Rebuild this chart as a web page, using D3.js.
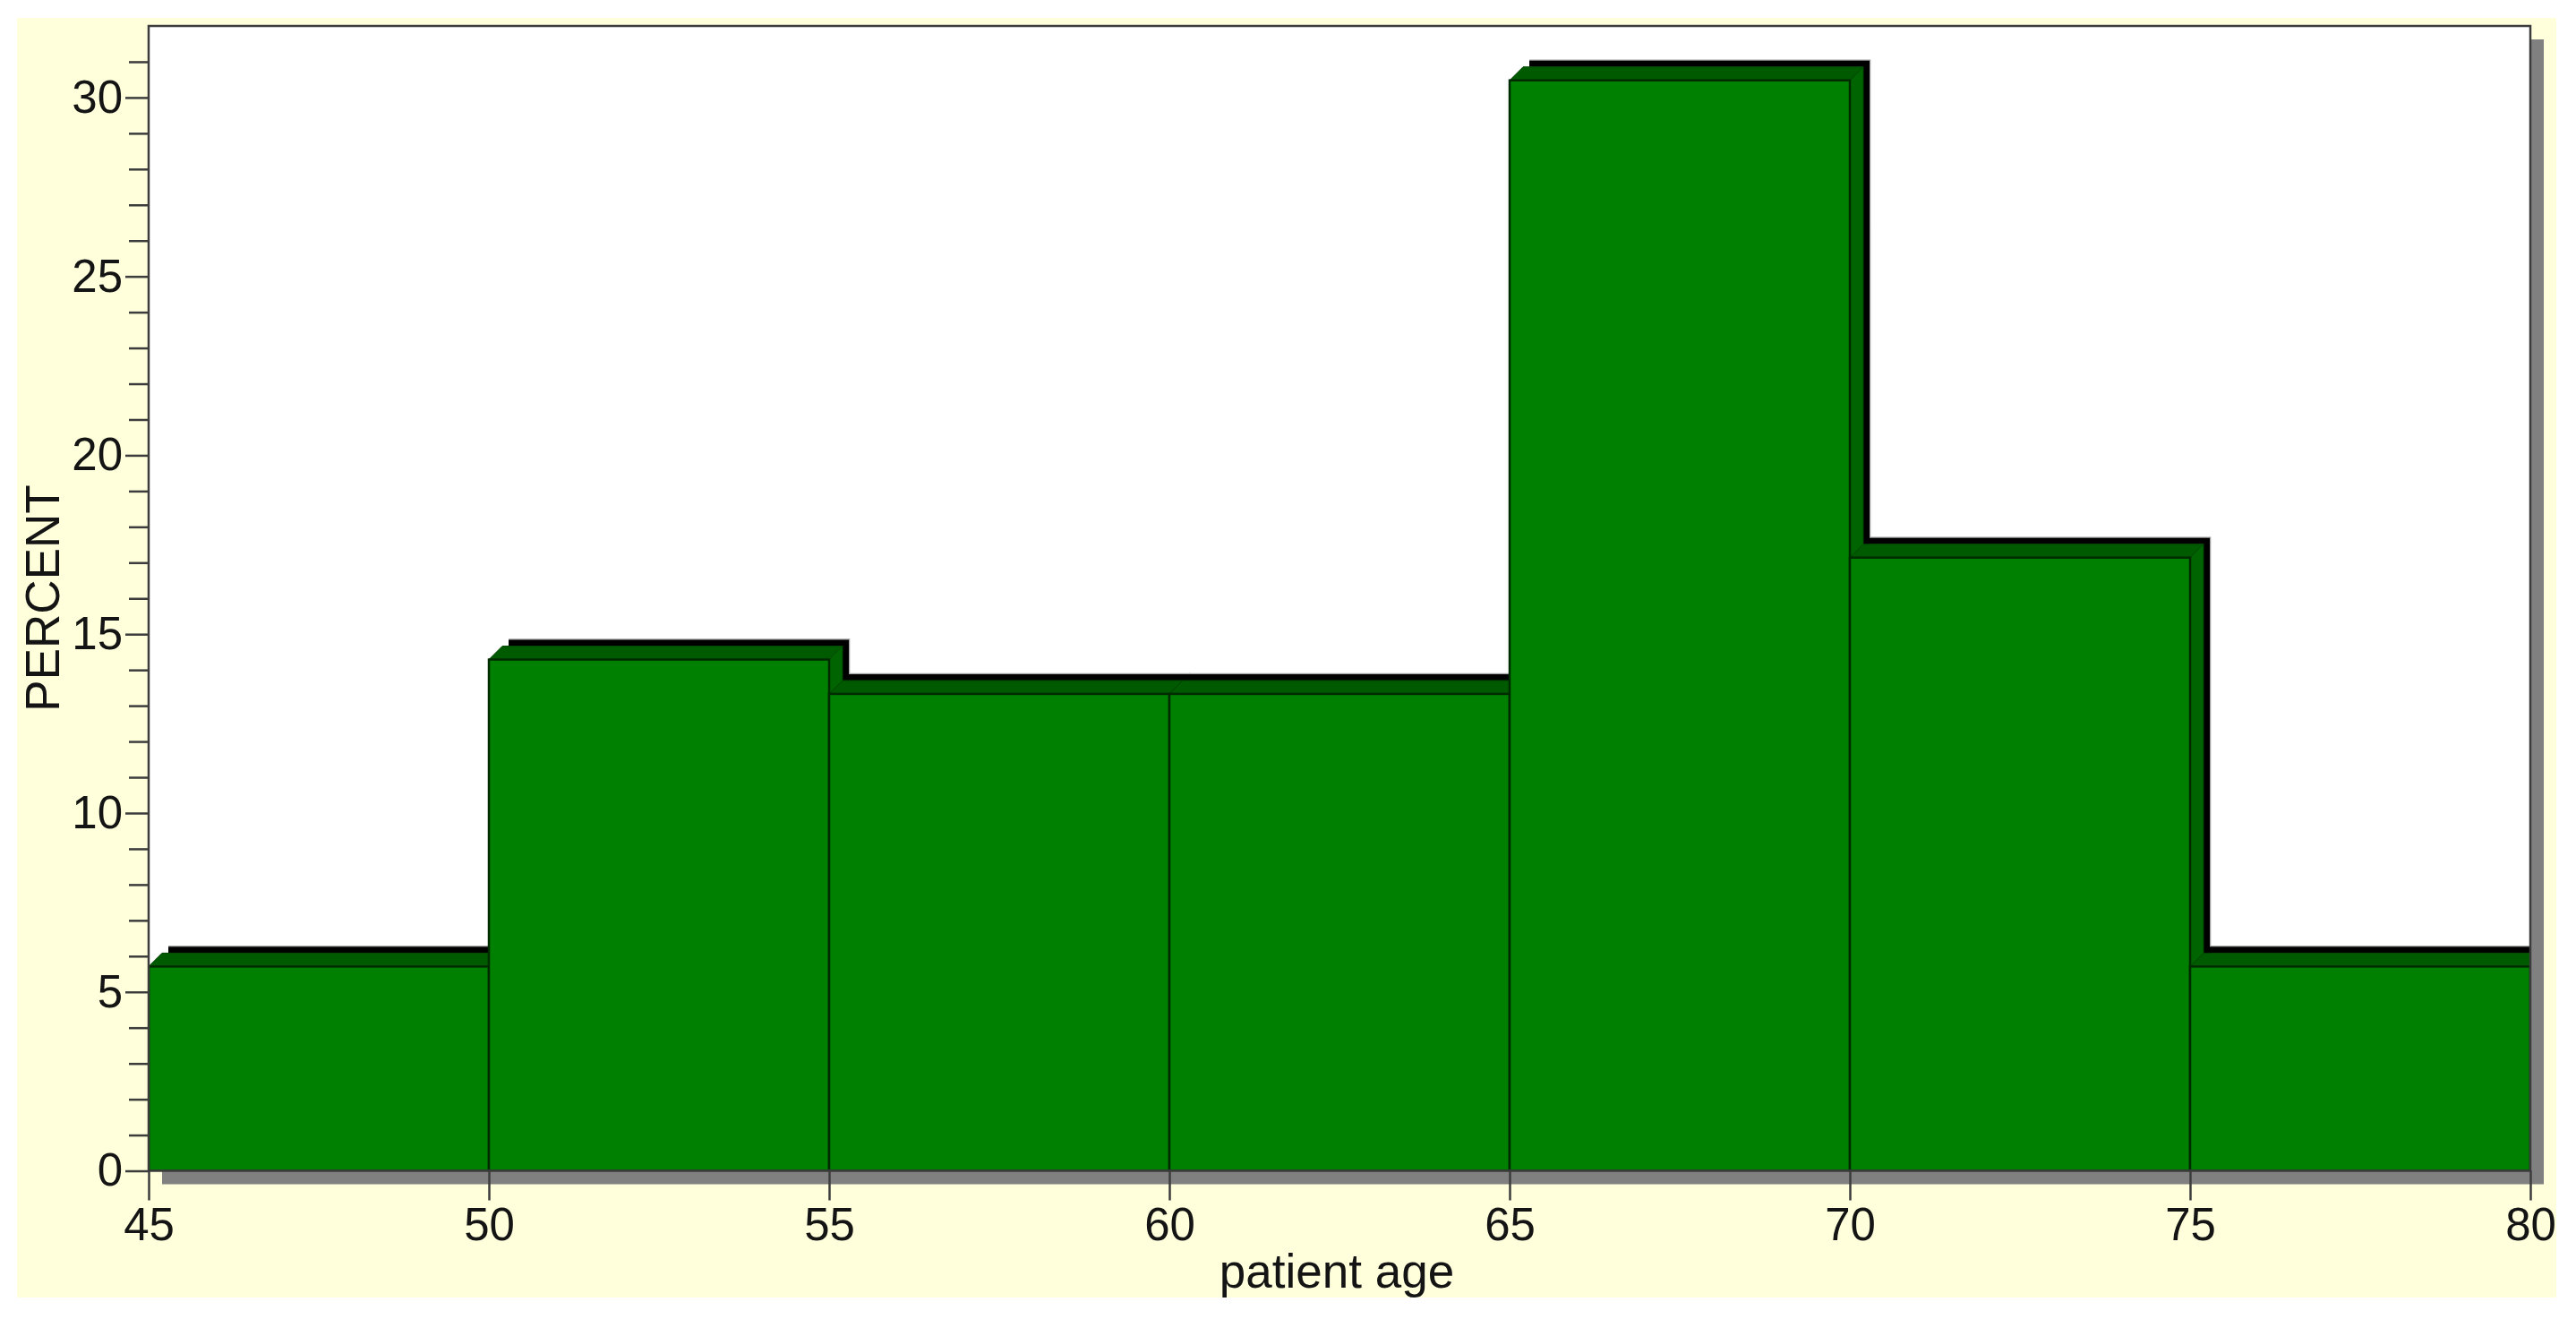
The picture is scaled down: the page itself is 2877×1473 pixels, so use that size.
<!DOCTYPE html>
<html>
<head>
<meta charset="utf-8">
<style>
  html, body { margin: 0; padding: 0; background: #fff; }
  svg { display: block; }
  text { font-family: "Liberation Sans", Arial, sans-serif; fill: #141414; }
</style>
</head>
<body>
<svg width="2877" height="1473"></svg>
<script src="https://cdn.jsdelivr.net/npm/d3@7"></script>
<script>
// histogram values
var binStarts = [45, 50, 55, 60, 65, 70, 75];
var binEnds = [50, 55, 60, 65, 70, 75, 80];
var percents = [5.71, 14.29, 13.33, 13.33, 30.48, 17.14, 5.71];
var xTicks = [45, 50, 55, 60, 65, 70, 75, 80];
var yMajorTicks = [0, 5, 10, 15, 20, 25, 30];
var yMinorTicks = [1, 2, 3, 4, 6, 7, 8, 9, 11, 12, 13, 14, 16, 17, 18, 19, 21, 22, 23, 24, 26, 27, 28, 29, 31];

var svg = d3.select("svg"),
    plotLeft = 166, plotRight = 2826, plotTop = 29, plotBottom = 1307.5,
    depth = 15,      // green 3d faces
    outer = 22,      // black band behind them
    tickColor = "#3c3c3c";

var x = d3.scaleLinear().domain([45, 80]).range([plotLeft, plotRight]);
var y = d3.scaleLinear().domain([0, 32]).range([plotBottom, plotTop]);

// panel behind everything
svg.append("rect")
    .attr("x", 19).attr("y", 20)
    .attr("width", 2836).attr("height", 1429)
    .attr("fill", "#ffffdc");

// drop shadow of the plot area
svg.append("rect")
    .attr("x", plotLeft + depth).attr("y", plotTop + depth)
    .attr("width", plotRight - plotLeft).attr("height", plotBottom - plotTop)
    .attr("fill", "#808080");

svg.append("rect")
    .attr("x", plotLeft).attr("y", plotTop)
    .attr("width", plotRight - plotLeft).attr("height", plotBottom - plotTop)
    .attr("fill", "#fff");

svg.append("clipPath").attr("id", "plot-clip")
    .append("rect")
    .attr("x", plotLeft).attr("y", plotTop)
    .attr("width", plotRight - plotLeft).attr("height", plotBottom - plotTop);

var bins = binStarts.map(function (d, i) {
    return { x0: x(d), x1: x(binEnds[i]), top: y(percents[i]) };
});

function pts(list) {
    return list.map(function (p) { return p.join(","); }).join(" ");
}

var bar = svg.append("g")
    .attr("clip-path", "url(#plot-clip)")
    .selectAll(".bar")
    .data(bins)
    .enter().append("g")
    .attr("class", "bar");

// thin grey edge on the outside of the black band, top and right only
bar.append("polyline")
    .attr("points", function (d) {
        return pts([[d.x0 + outer, d.top - outer - 0.5],
            [d.x1 + outer + 0.5, d.top - outer - 0.5],
            [d.x1 + outer + 0.5, plotBottom]]);
    })
    .attr("fill", "none")
    .attr("stroke", "#a0a0a0")
    .attr("stroke-width", 1.5);

// black band, drawn left to right so the next bar covers what it should
bar.append("polygon")
    .attr("points", function (d) {
        return pts([[d.x0 + outer, d.top - depth], [d.x0 + outer, d.top - outer],
            [d.x1 + outer, d.top - outer], [d.x1 + outer, plotBottom],
            [d.x1 + depth, plotBottom], [d.x1 + depth, d.top - depth]]);
    })
    .attr("fill", "#000");

// top face
bar.append("polygon")
    .attr("points", function (d) {
        return pts([[d.x0, d.top], [d.x0 + depth, d.top - depth],
            [d.x1 + depth, d.top - depth], [d.x1, d.top]]);
    })
    .attr("fill", "#005a00")
    .attr("stroke", "#004400")
    .attr("stroke-width", 1);

// side face
bar.append("polygon")
    .attr("points", function (d) {
        return pts([[d.x1, d.top], [d.x1 + depth, d.top - depth],
            [d.x1 + depth, plotBottom], [d.x1, plotBottom]]);
    })
    .attr("fill", "#006400")
    .attr("stroke", "#004400")
    .attr("stroke-width", 1);

// front face
bar.append("rect")
    .attr("x", function (d) { return d.x0; })
    .attr("y", function (d) { return d.top; })
    .attr("width", function (d) { return d.x1 - d.x0; })
    .attr("height", function (d) { return plotBottom - d.top; })
    .attr("fill", "#008000")
    .attr("stroke", "#002a00")
    .attr("stroke-width", 2.5);

// plot border
svg.append("rect")
    .attr("x", plotLeft).attr("y", plotTop)
    .attr("width", plotRight - plotLeft).attr("height", plotBottom - plotTop)
    .attr("fill", "none")
    .attr("stroke", tickColor)
    .attr("stroke-width", 2.5);

// axes
var xAxis = svg.append("g")
    .attr("transform", "translate(0," + plotBottom + ")")
    .call(d3.axisBottom(x).tickValues(xTicks).tickSize(33).tickPadding(8).tickFormat(d3.format("d")));

var yMinor = svg.append("g")
    .attr("transform", "translate(" + plotLeft + ",0)")
    .call(d3.axisLeft(y).tickValues(yMinorTicks).tickSize(22).tickFormat(""));

var yAxis = svg.append("g")
    .attr("transform", "translate(" + plotLeft + ",0)")
    .call(d3.axisLeft(y).tickValues(yMajorTicks).tickSize(26).tickPadding(3).tickFormat(d3.format("d")));

[xAxis, yMinor, yAxis].forEach(function (a) {
    a.select(".domain").remove();
    a.selectAll("line").attr("stroke", tickColor).attr("stroke-width", 2.5);
    a.selectAll("text").attr("font-size", 51)
        .attr("font-family", '"Liberation Sans", Arial, sans-serif')
        .attr("fill", "#141414");
});

svg.append("text")
    .attr("x", 1493)
    .attr("y", 1438)
    .attr("text-anchor", "middle")
    .attr("font-size", 53)
    .text("patient age");

svg.append("text")
    .attr("transform", "translate(66,668) rotate(-90)")
    .attr("text-anchor", "middle")
    .attr("font-size", 53)
    .text("PERCENT");
</script>
</body>
</html>
